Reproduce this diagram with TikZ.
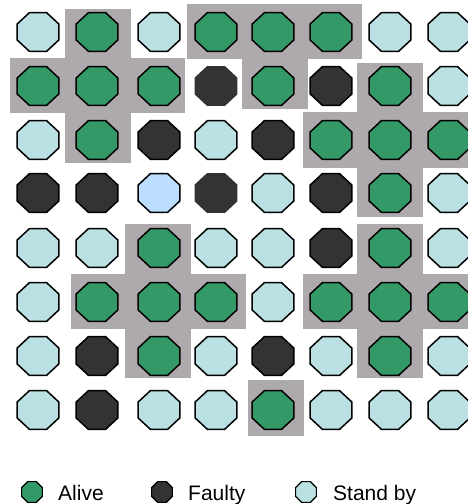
\documentclass[tikz,border=0pt]{standalone}
\usepackage{fontspec}
\setmainfont{Liberation Sans}
\usetikzlibrary{shapes.geometric}
\definecolor{alivec}{HTML}{339966}
\definecolor{faultyc}{HTML}{333333}
\definecolor{standc}{HTML}{BBE0E3}
\definecolor{sparec}{HTML}{BBDDFF}
\definecolor{zonec}{HTML}{AEA9AC}
\begin{document}
\begin{tikzpicture}[x=1pt,y=-1pt,
  oct/.style={regular polygon, regular polygon sides=8, minimum size=45pt, inner sep=0pt, draw=black, line width=1.5pt, transform shape},
  st-A/.style={fill=alivec},
  st-F/.style={fill=faultyc},
  st-N/.style={fill=faultyc, draw=none, minimum size=46.5pt},
  st-S/.style={fill=standc},
  st-B/.style={fill=sparec},
  legoct/.style={regular polygon, regular polygon sides=8, minimum size=22.5pt, inner sep=0pt, draw=black, line width=1.2pt},
  legtext/.style={anchor=base west, inner sep=0pt, font=\fontsize{21}{25}\selectfont},
  zone/.style={fill=zonec, draw=none}]
\useasboundingbox (0,0) rectangle (467,504);
% grey zones
\fill[zone] (65,9) rectangle (131,58);
\fill[zone] (187,4) rectangle (362,59);
\fill[zone] (10,58) rectangle (185,113);
\fill[zone] (65,113) rectangle (131,163);
\fill[zone] (242,59) rectangle (308,109);
\fill[zone] (357,63) rectangle (423,112);
\fill[zone] (303,112) rectangle (470,168);
\fill[zone] (357,168) rectangle (423,217);
\fill[zone] (357,224) rectangle (423,274);
\fill[zone] (303,274) rectangle (470,329);
\fill[zone] (357,329) rectangle (423,378);
\fill[zone] (125,224) rectangle (191,274);
\fill[zone] (71,274) rectangle (246,329);
\fill[zone] (125,329) rectangle (191,378);
\fill[zone] (248,380) rectangle (304,436);
% nodes
\foreach \row [count=\r] in {
  {S,A,S,A,A,A,S,S},
  {A,A,A,N,A,F,A,S},
  {S,A,F,S,F,A,A,A},
  {F,F,B,N,S,F,A,S},
  {S,S,A,S,S,F,A,S},
  {S,A,A,A,S,A,A,A},
  {S,F,A,S,F,S,A,S},
  {S,F,S,S,A,S,S,S}} {
  \foreach \s [count=\c] in \row {
    \pgfmathsetmacro{\xx}{{38,97,159,216,273,331,390,449}[\c-1]}
    \pgfmathsetmacro{\yy}{{32,86,140,193,248,302,356,410}[\r-1]}
    \begin{scope}[shift={(\xx,\yy)}, yscale=0.93]
      \node[oct, st-\s] (n-\r-\c) at (0,0) {};
    \end{scope}
  }
}
% legend
\node[legoct, fill=alivec] (la) at (32,492) {};
\node[legtext] (lat) at (58,500) {Alive};
\node[legoct, fill=faultyc] (lf) at (162,492) {};
\node[legtext] (lft) at (188,500) {Faulty};
\node[legoct, fill=standc] (ls) at (306,492) {};
\node[legtext] (lst) at (333,500) {Stand by};
\end{tikzpicture}
\end{document}
